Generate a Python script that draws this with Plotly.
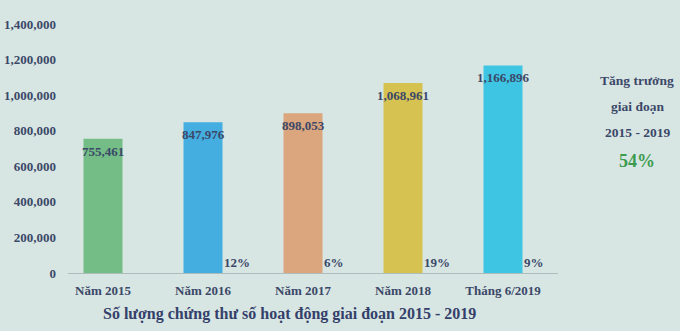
import plotly.graph_objects as go

categories = ["Năm 2015", "Năm 2016", "Năm 2017", "Năm 2018", "Tháng 6/2019"]
values = [755461, 847976, 898053, 1068961, 1166896]
growth = ["", "12%", "6%", "19%", "9%"]
colors = ["#74bd86", "#45aee0", "#dba67e", "#d6c250", "#3dc5e3"]
y_ticks = [0, 200000, 400000, 600000, 800000, 1000000, 1200000, 1400000]
side_lines = ["Tăng trưởng", "giai đoạn", "2015 - 2019"]
side_value = "54%"
title = "Số lượng chứng thư số hoạt động giai đoạn 2015 - 2019"

TXT = "#3b4868"
FONT = "'Liberation Serif', 'Times New Roman', 'DejaVu Serif', serif"
BG = "#d8e6e3"

fig = go.Figure()
fig.add_trace(go.Bar(
    x=list(range(len(categories))), y=values,
    marker=dict(color=colors, line=dict(width=0)),
    width=0.39, hoverinfo="skip",
))

annotations = []
for i, v in enumerate(values):
    annotations.append(dict(
        x=i, y=v, xref="x", yref="y", text=f"<b>{v:,}</b>",
        showarrow=False, yanchor="top", yshift=-3,
        font=dict(family=FONT, size=13, color=TXT),
    ))
    if growth[i]:
        annotations.append(dict(
            x=i + 0.195, y=0, xref="x", yref="y", text=f"<b>{growth[i]}</b>",
            showarrow=False, xanchor="left", yanchor="bottom", yshift=1, xshift=-1,
            font=dict(family=FONT, size=13, color=TXT),
        ))

for k, line in enumerate(side_lines):
    annotations.append(dict(
        x=637, y=80 + k * 26, xref="paper", yref="paper", text=f"<b>{line}</b>",
        showarrow=False, xanchor="center", yanchor="middle",
        font=dict(family=FONT, size=13.5, color=TXT),
    ))
annotations.append(dict(
    x=637, y=161, text=f"<b>{side_value}</b>", showarrow=False,
    xanchor="center", yanchor="middle",
    font=dict(family=FONT, size=18, color="#3d9b50"),
))
annotations.append(dict(
    x=289, y=314, text=f"<b>{title}</b>", showarrow=False,
    xanchor="center", yanchor="middle",
    font=dict(family=FONT, size=16, color="#34406a"),
))

L, R, T, B = 68, 122, 24, 58
W, H = 680, 331
pw, ph = W - L - R, H - T - B
for a in annotations:
    if a.get("xref") != "x":
        px, py = a["x"], a["y"]
        a["xref"] = "paper"; a["yref"] = "paper"
        a["x"] = (px - L) / pw
        a["y"] = (H - B - py) / ph

fig.update_layout(
    width=W, height=H,
    margin=dict(l=L, r=R, t=T, b=B, autoexpand=False),
    paper_bgcolor=BG, plot_bgcolor=BG,
    showlegend=False,
    annotations=annotations,
    xaxis=dict(
        range=[-0.35, 4.55], tickmode="array",
        tickvals=list(range(len(categories))),
        ticktext=[f"<b>{c}</b>" for c in categories],
        tickfont=dict(family=FONT, size=13, color=TXT),
        showgrid=False, zeroline=False, showline=True, automargin=False,
        linecolor="#aebdbb", linewidth=1, ticks="", ticklen=0,
        ticklabelstandoff=5,
    ),
    yaxis=dict(
        range=[0, 1400000], tickmode="array", tickvals=y_ticks,
        ticktext=[f"<b>{t:,}</b>" for t in y_ticks],
        tickfont=dict(family=FONT, size=13, color=TXT),
        showgrid=False, zeroline=False, showline=False, ticks="", automargin=False,
        ticklabelstandoff=11,
    ),
)

fig.write_html("out.html")
